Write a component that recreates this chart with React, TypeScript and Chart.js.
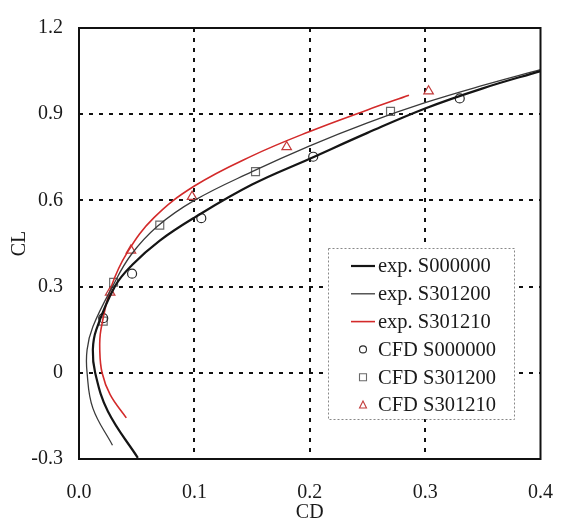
import React, { useEffect, useRef } from "react";
import { Chart, registerables } from "chart.js";

Chart.register(...registerables);

// ---- data (CD on x, CL on y) ----
const expS000000CD = [0.051, 0.025, 0.014, 0.012, 0.015, 0.031, 0.046, 0.07, 0.1, 0.15, 0.2, 0.25, 0.3, 0.35, 0.4];
const expS000000CL = [-0.296, -0.134, 0.0, 0.08, 0.15, 0.3, 0.375, 0.46, 0.54, 0.655, 0.745, 0.835, 0.92, 0.99, 1.05];

const expS301200CD = [0.029, 0.012, 0.007, 0.007, 0.012, 0.029, 0.045, 0.068, 0.1, 0.15, 0.2, 0.25, 0.3, 0.35, 0.4];
const expS301200CL = [-0.252, -0.123, 0.0, 0.08, 0.16, 0.3, 0.41, 0.51, 0.6, 0.7, 0.79, 0.87, 0.94, 1.0, 1.055];

const expS301210CD = [0.041, 0.027, 0.02, 0.018, 0.019, 0.028, 0.042, 0.065, 0.1, 0.15, 0.2, 0.25, 0.286];
const expS301210CL = [-0.157, -0.076, 0.0, 0.08, 0.15, 0.3, 0.42, 0.54, 0.65, 0.755, 0.84, 0.915, 0.966];

const cfdS000000CD = [0.021, 0.046, 0.106, 0.203, 0.33];
const cfdS000000CL = [0.19, 0.345, 0.538, 0.752, 0.955];

const cfdS301200CD = [0.021, 0.03, 0.07, 0.153, 0.27];
const cfdS301200CL = [0.18, 0.315, 0.514, 0.7, 0.91];

const cfdS301210CD = [0.027, 0.045, 0.098, 0.18, 0.303];
const cfdS301210CL = [0.28, 0.426, 0.613, 0.786, 0.98];

const seriesLabels = [
  "exp. S000000",
  "exp. S301200",
  "exp. S301210",
  "CFD S000000",
  "CFD S301200",
  "CFD S301210",
];

const xTicks = [0, 0.1, 0.2, 0.3, 0.4];
const yTicks = [-0.3, 0, 0.3, 0.6, 0.9, 1.2];

const FONT = "'Liberation Serif', 'Times New Roman', serif";

const pts = (xs: number[], ys: number[]) => xs.map((x, i) => ({ x, y: ys[i] }));

const frameAndLegend = {
  id: "frameAndLegend",
  afterDraw(chart: any) {
    const { ctx, chartArea } = chart;
    const { left, right, top, bottom } = chartArea;
    ctx.save();
    // frame
    ctx.strokeStyle = "#111";
    ctx.lineWidth = 2;
    ctx.setLineDash([]);
    ctx.strokeRect(left, top, right - left, bottom - top);

    // legend box
    const bx = left + 249;
    const by = top + 220;
    const bw = 186;
    const bh = 171;
    ctx.fillStyle = "#fff";
    ctx.fillRect(bx, by, bw, bh);
    ctx.strokeStyle = "#888";
    ctx.lineWidth = 1;
    ctx.setLineDash([2, 2]);
    ctx.strokeRect(bx + 0.5, by + 0.5, bw, bh);
    ctx.setLineDash([]);

    const rowH = 27.8;
    const firstY = by + 18;
    const sx0 = bx + 23;
    const sx1 = bx + 47;
    const tx = bx + 50;
    ctx.font = `20.5px ${FONT}`;
    ctx.textBaseline = "middle";
    ctx.textAlign = "left";
    chart.data.datasets.forEach((ds: any, i: number) => {
      const y = firstY + i * rowH;
      if (ds.showLine) {
        ctx.strokeStyle = ds.borderColor;
        ctx.lineWidth = ds.borderWidth;
        ctx.beginPath();
        ctx.moveTo(sx0, y);
        ctx.lineTo(sx1, y);
        ctx.stroke();
      } else {
        ctx.strokeStyle = ds.borderColor;
        ctx.lineWidth = 1.1;
        const cx = (sx0 + sx1) / 2;
        const r = 3.5;
        ctx.beginPath();
        if (ds.pointStyle === "circle") {
          ctx.arc(cx, y, r, 0, Math.PI * 2);
        } else if (ds.pointStyle === "rect") {
          ctx.rect(cx - r, y - r, 2 * r, 2 * r);
        } else {
          ctx.moveTo(cx, y - r - 0.5);
          ctx.lineTo(cx + r, y + r - 0.5);
          ctx.lineTo(cx - r, y + r - 0.5);
          ctx.closePath();
        }
        ctx.stroke();
      }
      ctx.fillStyle = "#1a1a1a";
      ctx.fillText(ds.label, tx, y + 1);
    });
    ctx.restore();
  },
};

export default function App() {
  const ref = useRef<HTMLCanvasElement | null>(null);

  useEffect(() => {
    if (!ref.current) return;
    const lineDs = (label: string, xs: number[], ys: number[], color: string, w: number) => ({
      label,
      data: pts(xs, ys),
      showLine: true,
      borderColor: color,
      backgroundColor: color,
      borderWidth: w,
      pointRadius: 0,
      pointHoverRadius: 0,
      tension: 0.4,
      fill: false,
    });
    const markDs = (label: string, xs: number[], ys: number[], color: string, style: string, r: number) => ({
      label,
      data: pts(xs, ys),
      showLine: false,
      borderColor: color,
      backgroundColor: "rgba(0,0,0,0)",
      pointStyle: style,
      pointRadius: r,
      pointBorderWidth: 1.2,
      borderWidth: 1.2,
    });

    const chart = new Chart(ref.current, {
      type: "scatter",
      data: {
        datasets: [
          lineDs(seriesLabels[0], expS000000CD, expS000000CL, "#151515", 2.2),
          lineDs(seriesLabels[1], expS301200CD, expS301200CL, "#3a3a3a", 1.3),
          lineDs(seriesLabels[2], expS301210CD, expS301210CL, "#d32a2a", 1.6),
          markDs(seriesLabels[3], cfdS000000CD, cfdS000000CL, "#2a2a2a", "circle", 4.5),
          markDs(seriesLabels[4], cfdS301200CD, cfdS301200CL, "#6a6a6a", "rect", 5.6),
          markDs(seriesLabels[5], cfdS301210CD, cfdS301210CL, "#c23b3b", "triangle", 5.5),
        ] as any,
      },
      options: {
        animation: false,
        responsive: false,
        maintainAspectRatio: false,
        layout: { padding: { top: 17, right: 30, left: 0, bottom: 0 } },
        plugins: {
          legend: { display: false },
          tooltip: { enabled: false },
        },
        scales: {
          x: {
            type: "linear",
            min: 0,
            max: 0.4,
            afterBuildTicks: (s: any) => {
              s.ticks = xTicks.map((v) => ({ value: v }));
            },
            afterFit: (s: any) => {
              s.height = 66;
            },
            ticks: {
              padding: 22,
              color: "#1a1a1a",
              font: { family: FONT, size: 20 },
              maxRotation: 0,
              callback: (v: any) => Number(v).toFixed(1),
            },
            grid: {
              drawTicks: false,
              lineWidth: 2,
              color: (c: any) =>
                c.tick && (c.tick.value === 0 || Math.abs(c.tick.value - 0.4) < 1e-9) ? "rgba(0,0,0,0)" : "#111",
            },
            border: { display: false, dash: [4, 6] },
            title: {
              display: true,
              text: "CD",
              color: "#1a1a1a",
              font: { family: FONT, size: 20 },
              padding: { top: 0, bottom: 0 },
            },
          },
          y: {
            type: "linear",
            min: -0.3,
            max: 1.2,
            afterBuildTicks: (s: any) => {
              s.ticks = yTicks.map((v) => ({ value: v }));
            },
            afterFit: (s: any) => {
              s.width = 79;
            },
            ticks: {
              padding: 16,
              color: "#1a1a1a",
              font: { family: FONT, size: 20 },
              callback: (v: any) => (Math.abs(Number(v)) < 1e-9 ? "0" : Number(v).toFixed(1)),
            },
            grid: {
              drawTicks: false,
              lineWidth: 2,
              color: (c: any) =>
                c.tick && (Math.abs(c.tick.value + 0.3) < 1e-9 || Math.abs(c.tick.value - 1.2) < 1e-9)
                  ? "rgba(0,0,0,0)"
                  : "#111",
            },
            border: { display: false, dash: [4, 6] },
            title: {
              display: true,
              text: "CL",
              color: "#1a1a1a",
              font: { family: FONT, size: 20 },
              padding: { top: 8, bottom: 0 },
            },
          },
        },
      } as any,
      plugins: [frameAndLegend],
    });
    return () => chart.destroy();
  }, []);

  return (
    <div style={{ position: "absolute", left: 0, top: 0, width: 575, height: 525, background: "#fff" }}>
      <canvas ref={ref} width={575} height={525} style={{ display: "block", width: 575, height: 525 }} />
    </div>
  );
}
